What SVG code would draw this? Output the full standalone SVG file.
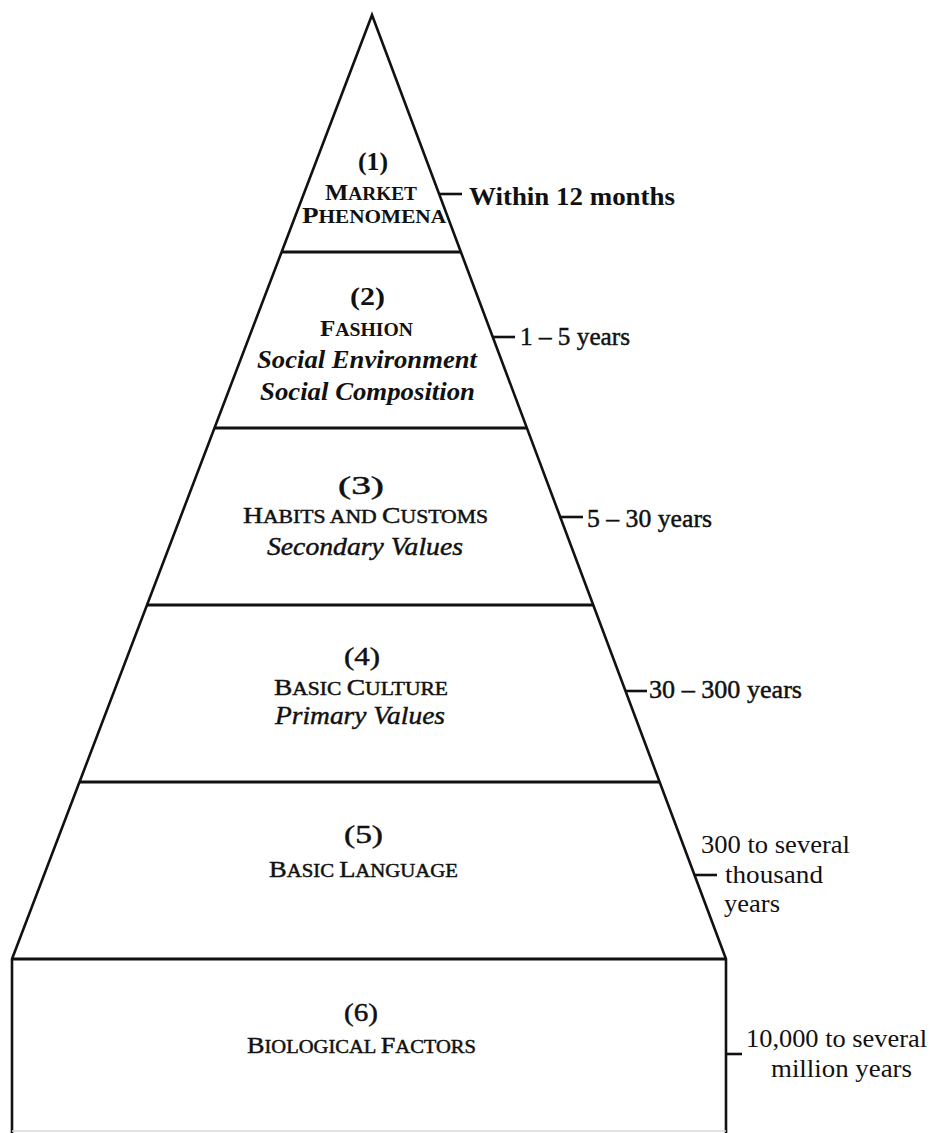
<svg xmlns="http://www.w3.org/2000/svg" width="936" height="1133" viewBox="0 0 936 1133">
<style>
  text { font-family: "Liberation Serif", "Times New Roman", serif; fill: #111; }
  .num { font-size: 25px; text-anchor: middle; }
  .cap { font-size: 23px; text-anchor: middle; }
  .sm { font-size: 18px; }
  .it { font-size: 26px; font-style: italic; text-anchor: middle; }
  .b { font-weight: bold; }
  .lab { font-size: 25px; }
  .hv { stroke: #111; stroke-width: 0.45; }
  .edge { fill: none; stroke: #111; stroke-width: 2.6; stroke-linejoin: miter; }
  .div { stroke: #111; stroke-width: 3.2; }
  .tick { stroke: #111; stroke-width: 2.6; }
</style>
<rect x="0" y="0" width="936" height="1133" fill="#fff"/>
<g id="outline">
  <path class="edge" d="M12,1133 L12,959 L372,15 L726,959 L726,1133"/>
  <line class="div" x1="281" y1="252" x2="461" y2="252"/>
  <line class="div" x1="214" y1="428" x2="526" y2="428"/>
  <line class="div" x1="147" y1="605" x2="593" y2="605"/>
  <line class="div" x1="79" y1="782" x2="660" y2="782"/>
  <line class="div" x1="12" y1="959" x2="726" y2="959"/>
  <line x1="12" y1="1131" x2="726" y2="1131" stroke="#d8d8d8" stroke-width="1.5"/>
</g>
<g id="band1">
  <text class="num b" x="373" y="170" textLength="30" lengthAdjust="spacingAndGlyphs">(1)</text>
  <text class="cap b" x="371" y="200" textLength="92" lengthAdjust="spacingAndGlyphs">M<tspan class="sm">ARKET</tspan></text>
  <text class="cap b" x="374" y="223" textLength="144" lengthAdjust="spacingAndGlyphs">P<tspan class="sm">HENOMENA</tspan></text>
</g>
<g id="band2">
  <text class="num b" x="367.5" y="305" textLength="35" lengthAdjust="spacingAndGlyphs">(2)</text>
  <text class="cap b" x="366.5" y="336" textLength="93" lengthAdjust="spacingAndGlyphs">F<tspan class="sm">ASHION</tspan></text>
  <text class="it b" x="367" y="368" textLength="220" lengthAdjust="spacingAndGlyphs">Social Environment</text>
  <text class="it b" x="367.5" y="400" textLength="215" lengthAdjust="spacingAndGlyphs">Social Composition</text>
</g>
<g id="band3">
  <text class="num hv" x="361" y="494" textLength="46" lengthAdjust="spacingAndGlyphs">(3)</text>
  <text class="cap hv" x="365.5" y="523" textLength="245" lengthAdjust="spacingAndGlyphs">H<tspan class="sm">ABITS AND </tspan>C<tspan class="sm">USTOMS</tspan></text>
  <text class="it hv" x="365" y="555" textLength="196" lengthAdjust="spacingAndGlyphs">Secondary  Values</text>
</g>
<g id="band4">
  <text class="num hv" x="362" y="665" textLength="36" lengthAdjust="spacingAndGlyphs">(4)</text>
  <text class="cap hv" x="361" y="695" textLength="174" lengthAdjust="spacingAndGlyphs">B<tspan class="sm">ASIC </tspan>C<tspan class="sm">ULTURE</tspan></text>
  <text class="it hv" x="360" y="724" textLength="170" lengthAdjust="spacingAndGlyphs">Primary  Values</text>
</g>
<g id="band5">
  <text class="num hv" x="363.5" y="843" textLength="39" lengthAdjust="spacingAndGlyphs">(5)</text>
  <text class="cap hv" x="363.5" y="877" textLength="189" lengthAdjust="spacingAndGlyphs">B<tspan class="sm">ASIC </tspan>L<tspan class="sm">ANGUAGE</tspan></text>
</g>
<g id="band6">
  <text class="num hv" x="361" y="1021" textLength="34" lengthAdjust="spacingAndGlyphs">(6)</text>
  <text class="cap hv" x="361.5" y="1053" textLength="229" lengthAdjust="spacingAndGlyphs">B<tspan class="sm">IOLOGICAL </tspan>F<tspan class="sm">ACTORS</tspan></text>
</g>
<g id="connectors">
  <line class="tick" x1="440" y1="194" x2="462" y2="194"/>
  <line class="tick" x1="492" y1="337" x2="515" y2="337"/>
  <line class="tick" x1="559" y1="517" x2="583" y2="517"/>
  <line class="tick" x1="625" y1="691" x2="647" y2="691"/>
  <line class="tick" x1="694" y1="875" x2="717" y2="875"/>
  <line class="tick" x1="726" y1="1054" x2="742" y2="1054"/>
</g>
<g id="labels">
  <text class="lab b" x="469" y="205" textLength="206" lengthAdjust="spacingAndGlyphs">Within 12 months</text>
  <text class="lab hv" x="520" y="345" textLength="110" lengthAdjust="spacingAndGlyphs">1 – 5 years</text>
  <text class="lab hv" x="587" y="527" textLength="125" lengthAdjust="spacingAndGlyphs">5 – 30 years</text>
  <text class="lab hv" x="649" y="698" textLength="153" lengthAdjust="spacingAndGlyphs">30 – 300 years</text>
  <text class="lab" x="701" y="853" textLength="149" lengthAdjust="spacingAndGlyphs">300 to several</text>
  <text class="lab" x="725" y="883" textLength="98" lengthAdjust="spacingAndGlyphs">thousand</text>
  <text class="lab" x="724" y="912" textLength="56" lengthAdjust="spacingAndGlyphs">years</text>
  <text class="lab" x="746" y="1047" textLength="181" lengthAdjust="spacingAndGlyphs">10,000 to several</text>
  <text class="lab" x="771" y="1077" textLength="141" lengthAdjust="spacingAndGlyphs">million years</text>
</g>
</svg>
